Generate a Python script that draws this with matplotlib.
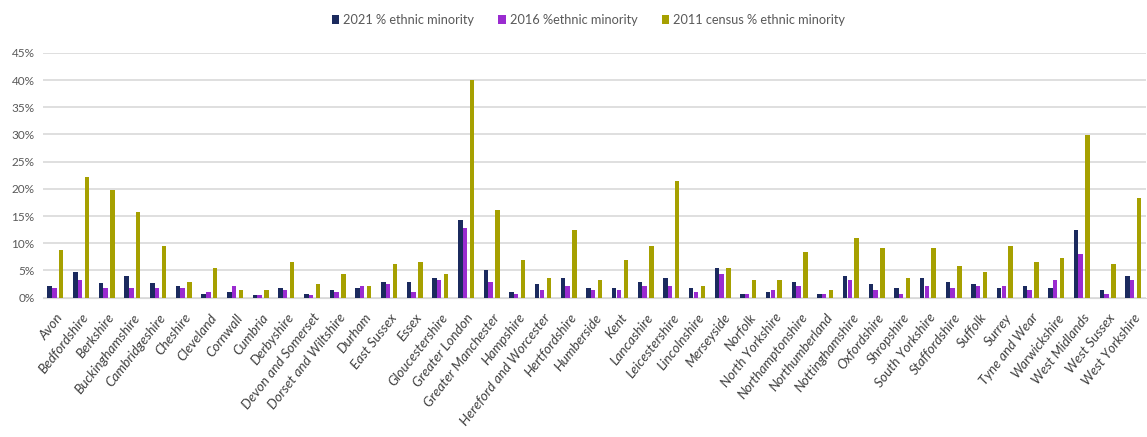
import numpy as np
import matplotlib
matplotlib.use("Agg")
import matplotlib.pyplot as plt
from matplotlib.ticker import FuncFormatter

# datos (porcentaje de minorias etnicas por condado)
condados = [
    "Avon", "Bedfordshire", "Berkshire", "Buckinghamshire", "Cambridgeshire",
    "Cheshire", "Cleveland", "Cornwall", "Cumbria", "Derbyshire",
    "Devon and Somerset", "Dorset and Wiltshire", "Durham", "East Sussex", "Essex",
    "Gloucestershire", "Greater London", "Greater Manchester", "Hampshire",
    "Hereford and Worcester", "Hertfordshire", "Humberside", "Kent", "Lancashire",
    "Leicestershire", "Lincolnshire", "Merseyside", "Norfolk", "North Yorkshire",
    "Northamptonshire", "Northumberland", "Nottinghamshire", "Oxfordshire",
    "Shropshire", "South Yorkshire", "Staffordshire", "Suffolk", "Surrey",
    "Tyne and Wear", "Warwickshire", "West Midlands", "West Sussex", "West Yorkshire",
]

pct_2021 = [
    2.2, 4.7, 2.6, 4.0, 2.6, 2.2, 0.7, 1.1, 0.4, 1.8,
    0.7, 1.4, 1.8, 2.9, 2.9, 3.6, 14.3, 5.1, 1.1, 2.5,
    3.6, 1.8, 1.8, 2.9, 3.6, 1.8, 5.4, 0.7, 1.1, 2.9,
    0.7, 4.0, 2.5, 1.8, 3.6, 2.9, 2.5, 1.8, 2.2, 1.8,
    12.4, 1.4, 4.0,
]
pct_2016 = [
    1.7, 3.2, 1.7, 1.7, 1.7, 1.7, 1.1, 2.2, 0.4, 1.4,
    0.4, 1.1, 2.2, 2.5, 1.1, 3.3, 12.8, 2.9, 0.7, 1.4,
    2.2, 1.4, 1.4, 2.2, 2.2, 1.1, 4.4, 0.7, 1.4, 2.2,
    0.7, 3.3, 1.4, 0.7, 2.2, 1.8, 2.2, 2.2, 1.4, 3.3,
    8.0, 0.7, 3.3,
]
pct_2011 = [
    8.8, 22.2, 19.7, 15.7, 9.4, 2.9, 5.4, 1.4, 1.4, 6.5,
    2.5, 4.4, 2.2, 6.2, 6.5, 4.4, 40.0, 16.1, 6.9, 3.6,
    12.4, 3.3, 6.9, 9.4, 21.5, 2.2, 5.4, 3.3, 3.3, 8.4,
    1.4, 10.9, 9.1, 3.6, 9.1, 5.8, 4.7, 9.4, 6.5, 7.3,
    29.9, 6.2, 18.3,
]

series = [
    ("2021 % ethnic minority", pct_2021, "#1b2a5e", -0.24),
    ("2016 %ethnic minority", pct_2016, "#9a2bd0", -0.06),
    ("2011 census % ethnic minority", pct_2011, "#a6a000", 0.21),
]

plt.rcParams["font.family"] = ["Lato", "DejaVu Sans"]

fig = plt.figure(figsize=(11.47, 4.37), dpi=100)
ax = fig.add_axes([0.0375, 0.319, 0.962, 0.56])

x = np.arange(len(condados))
for nombre, valores, color, desp in series:
    ax.bar(x + desp, valores, width=0.175, color=color, label=nombre, zorder=3)

ax.set_ylim(0, 45)
ax.set_xlim(-0.5, len(condados) - 0.5)
ax.set_yticks(np.arange(0, 46, 5))
ax.yaxis.set_major_formatter(FuncFormatter(lambda v, _: f"{v:.0f}%"))
ax.grid(axis="y", color="#d9d9d9", linewidth=1.2, zorder=0)

for lado in ["top", "right", "left"]:
    ax.spines[lado].set_visible(False)
ax.spines["bottom"].set_color("#d9d9d9")

ax.tick_params(axis="y", length=0, labelsize=8.5, labelcolor="#595959", pad=6)
ax.tick_params(axis="x", length=0, pad=10)
ax.set_xticks(x)
ax.set_xticklabels(condados, rotation=52, ha="right", rotation_mode="anchor",
                   fontsize=9.8, style="italic", color="#404040")

fig.legend(loc="upper center", bbox_to_anchor=(0.513, 0.995), ncol=3, frameon=False,
           fontsize=9.2, labelcolor="#595959", handlelength=0.6, handleheight=0.7,
           handletextpad=0.3, columnspacing=1.9)

fig.savefig("out.png", dpi=100)
